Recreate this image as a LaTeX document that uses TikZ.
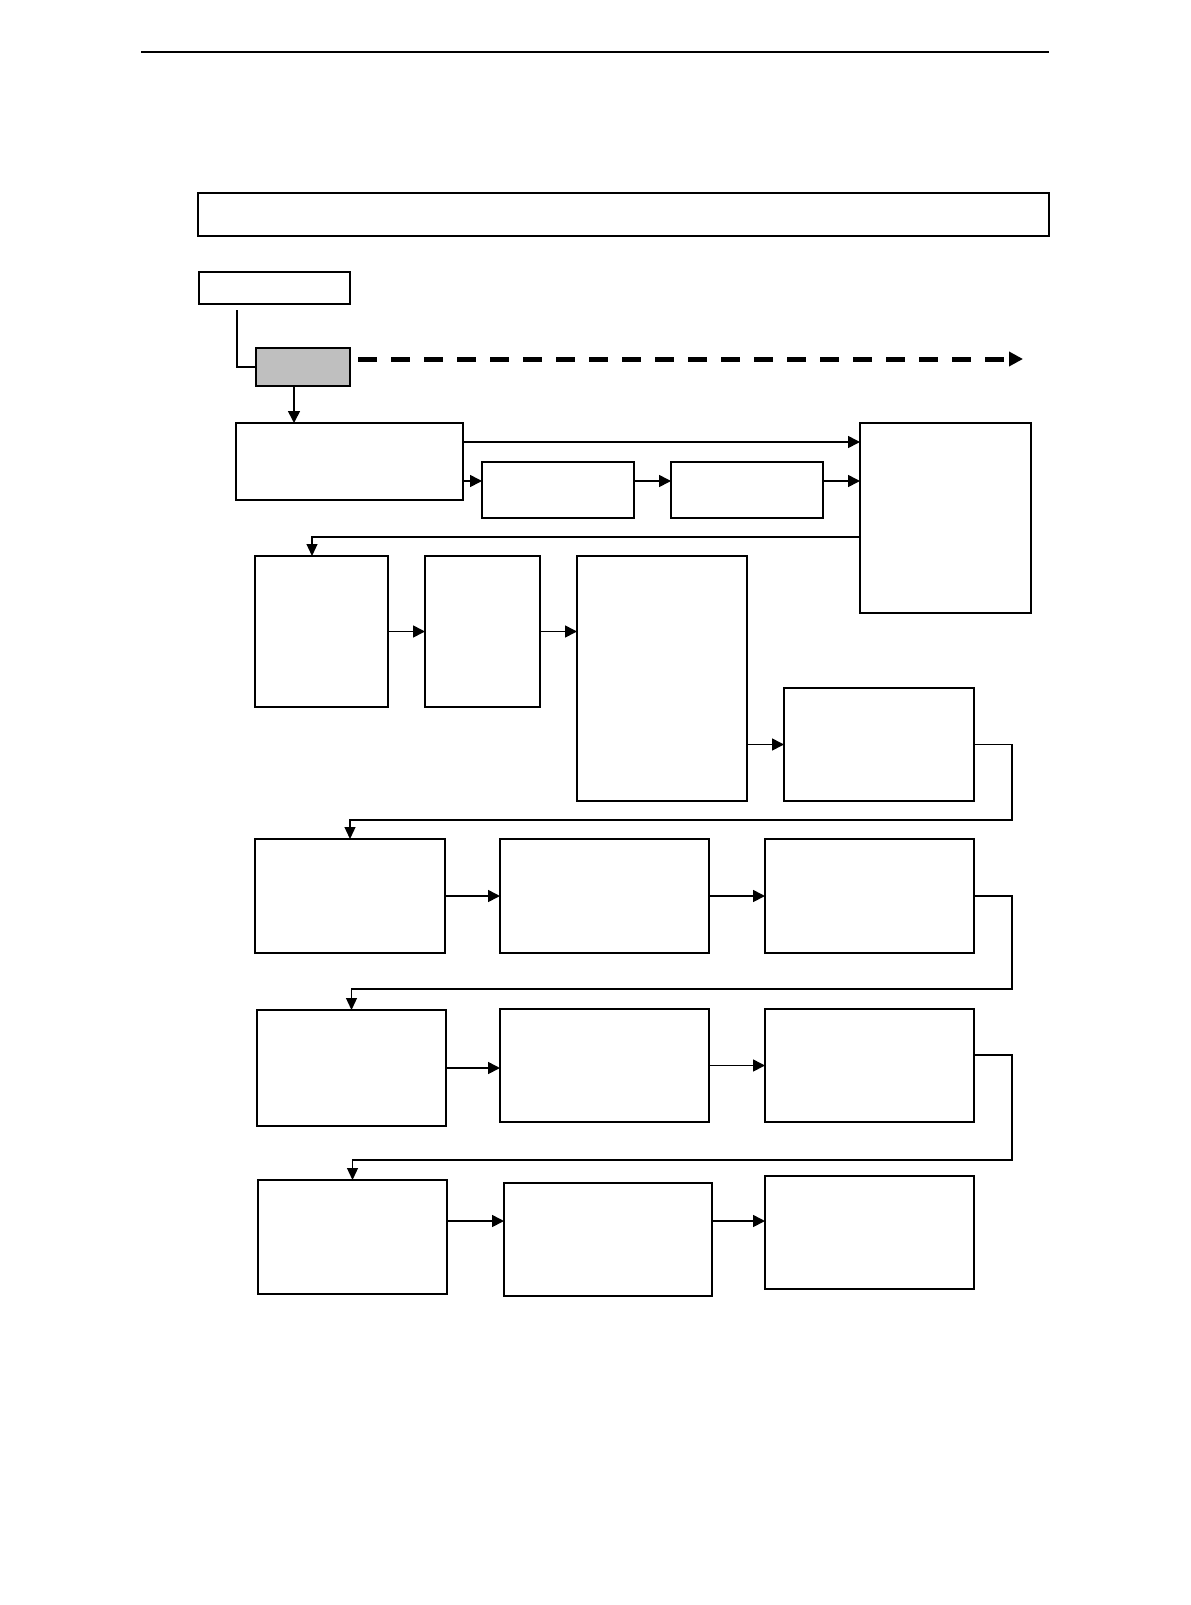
\documentclass[tikz,border=0pt]{standalone}
\usepackage{tikz}
\usetikzlibrary{positioning,arrows.meta}

\begin{document}
\begin{tikzpicture}[x=0.5pt, y=-0.5pt,
    box/.style={rectangle, draw, line width=0.9pt, outer sep=0pt, inner sep=0pt, anchor=north west},
    sz/.style 2 args={minimum width=#1*0.5pt, minimum height=#2*0.5pt},
    arr/.style={-{Triangle[length=6pt,width=6pt]}, line width=0.8pt},
    back/.style={-{Triangle[length=6pt,width=5.5pt]}, line width=0.6pt},
    dashline/.style={-{Triangle[length=7pt,width=7pt]}, line width=2.5pt, dash pattern=on 9.5pt off 7pt}
  ]
    \useasboundingbox (0,0) rectangle (1190,1605);
    \draw[line width=0.8pt] (141,52) -- (1049,52);
    % top part
    \node[box, sz={851}{43}] (title) at (198,193) {};
    \node[box, sz={151}{32}] (start) at (199,272) {};
    \node[box, sz={94}{38}, fill=gray!50] (hub) at (256,348) {};
    \node[box, sz={227}{77}] (a) at (236,423) {};
    \node[box, sz={152}{56}] (b) at (482,462) {};
    \node[box, sz={152}{56}] (c) at (671,462) {};
    \node[box, sz={171}{190}] (r) at (860,423) {};
    \node[box, sz={133}{151}] (d) at (255,556) {};
    \node[box, sz={115}{151}] (e) at (425,556) {};
    \node[box, sz={170}{245}] (f) at (577,556) {};
    \node[box, sz={190}{113}] (g) at (784,688) {};
    % rows
    \node[box, sz={190}{114}] (h) at (255,839) {};
    \node[box, sz={209}{114}] (i) at (500,839) {};
    \node[box, sz={209}{114}] (j) at (765,839) {};
    \node[box, sz={189}{116}] (k) at (257,1010) {};
    \node[box, sz={209}{113}] (l) at (500,1009) {};
    \node[box, sz={209}{113}] (m) at (765,1009) {};
    \node[box, sz={189}{114}] (n) at (258,1180) {};
    \node[box, sz={208}{113}] (o) at (504,1183) {};
    \node[box, sz={209}{113}] (p) at (765,1176) {};

    \coordinate (s0) at (237,310);
    \coordinate (k0) at (294,0);
    \coordinate (dend) at (1023,359);
    \coordinate (m1) at (0,481);
    \coordinate (m2) at (312,537);
    \coordinate (t1) at (1012,820);
    \coordinate (t2) at (1012,989);
    \coordinate (u3) at (0,1055);
    \coordinate (t3) at (1012,1160);
    \coordinate (m4) at (0,1221);

    \draw[line width=0.6pt] (s0) |- (hub.west);
    \draw[dashline] ([xshift=4pt]hub.east |- dend) -- (dend);
    \draw[arr] (hub.south -| k0) -- (a.north -| k0);
    \draw[arr] ([yshift=9.75pt]a.east) -- ([yshift=9.75pt]a.east -| r.west);
    \draw[arr] (a.east |- m1) -- (b.west |- m1);
    \draw[arr] (b.east |- m1) -- (c.west |- m1);
    \draw[arr] (c.east |- m1) -- (r.west |- m1);
    \draw[back] (r.west |- m2) -| (d.north -| m2);
    \draw[arr] (d) -- (e);
    \draw[arr] (e.east) -- (e.east -| f.west);
    \draw[arr] (g.west -| f.east) -- (g.west);
    \draw[back] (g.east) -| (t1) -| (h.north);
    \draw[arr] (h) -- (i); \draw[arr] (i) -- (j);
    \draw[back] (j.east) -| (t2) -| (k.north);
    \draw[arr] (k.east) -- (k.east -| l.west);
    \draw[arr] (l) -- (m);
    \draw[back] (m.east |- u3) -| (t3) -| (n.north);
    \draw[arr] (n.east |- m4) -- (o.west |- m4);
    \draw[arr] (o.east |- m4) -- (p.west |- m4);
  \end{tikzpicture}
\end{document}
